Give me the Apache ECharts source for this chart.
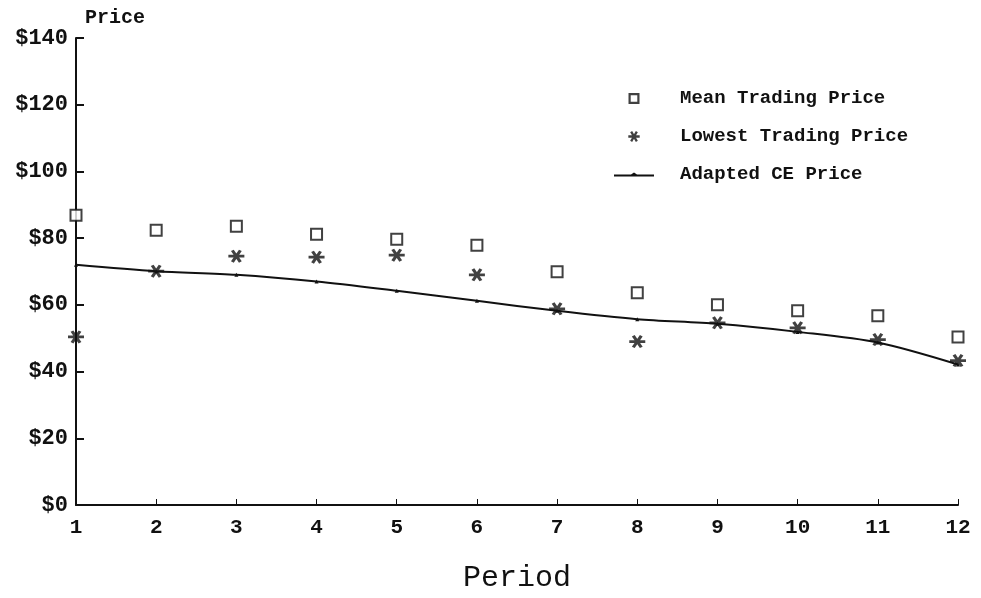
<!DOCTYPE html>
<html>
<head>
<meta charset="utf-8">
<title>Price by Period</title>
<script src="https://cdn.jsdelivr.net/npm/echarts@6/dist/echarts.min.js"></script>
<style>
  html, body { margin: 0; padding: 0; background: #ffffff; }
  #chart { width: 981px; height: 598px; }
</style>
</head>
<body>
<div id="chart"></div>
<script>
  // periods 1..12
  const periods = [1, 2, 3, 4, 5, 6, 7, 8, 9, 10, 11, 12];
  const meanPrice = [86.9, 82.4, 83.6, 81.2, 79.7, 77.9, 69.9, 63.6, 60.0, 58.2, 56.7, 50.4];
  const lowestPrice = [50.4, 70.1, 74.6, 74.3, 74.9, 69.0, 58.8, 49.0, 54.6, 53.1, 49.6, 43.3];
  const cePrice = [72.0, 70.1, 69.0, 67.0, 64.2, 61.2, 58.2, 55.7, 54.3, 51.9, 48.7, 42.1];
  const yTicks = [0, 20, 40, 60, 80, 100, 120, 140];

  // asterisk made of three bars (filled path)
  const starPath = 'path://M-10,-2L10,-2L10,2L-10,2Z' +
    'M6.73,7.66L3.27,9.66L-6.73,-7.66L-3.27,-9.66Z' +
    'M-3.27,9.66L-6.73,7.66L3.27,-9.66L6.73,-7.66Z';
  // legend icons
  const squareIcon = 'path://M0,0L10,0L10,10L0,10ZM2,2L2,8L8,8L8,2Z';
  const lineIcon = 'path://M0,9L17,9L20,7L23,9L40,9L40,11L0,11Z';

  const pair = (arr) => periods.map((p, i) => [p, arr[i]]);

  const chart = echarts.init(document.getElementById('chart'));
  const option = {
    backgroundColor: '#ffffff',
    animation: false,
    grid: { left: 76, right: 23, top: 38, bottom: 91, containLabel: false },
    legend: {
      orient: 'vertical',
      left: 609,
      top: 84,
      itemWidth: 40,
      itemHeight: 11,
      itemGap: 19,
      textStyle: {
        fontFamily: 'Liberation Mono',
        fontWeight: 'bold',
        fontSize: 19,
        color: '#111',
        padding: [0, 0, 0, 21]
      },
      data: [
        { name: 'Mean Trading Price', icon: squareIcon, itemStyle: { borderWidth: 0 } },
        { name: 'Lowest Trading Price', icon: starPath },
        { name: 'Adapted CE Price', icon: lineIcon }
      ]
    },
    xAxis: {
      type: 'value',
      min: 1,
      max: 12,
      interval: 1,
      name: 'Period',
      nameLocation: 'middle',
      nameGap: 58,
      nameTextStyle: { fontFamily: 'Liberation Mono', fontSize: 30, color: '#111' },
      axisLine: { lineStyle: { color: '#111', width: 2 } },
      axisTick: { inside: true, length: 6, lineStyle: { color: '#111', width: 1 } },
      axisLabel: {
        margin: 12,
        fontFamily: 'Liberation Mono',
        fontWeight: 'bold',
        fontSize: 21,
        color: '#111',
        formatter: (v) => String(v)
      },
      splitLine: { show: false }
    },
    yAxis: {
      type: 'value',
      min: yTicks[0],
      max: yTicks[yTicks.length - 1],
      interval: 20,
      name: 'Price',
      nameLocation: 'end',
      nameGap: 10,
      nameTextStyle: {
        fontFamily: 'Liberation Mono',
        fontWeight: 'bold',
        fontSize: 20,
        color: '#111',
        align: 'left',
        padding: [0, 0, 0, 9]
      },
      axisLine: { show: true, lineStyle: { color: '#111', width: 2 } },
      axisTick: { show: true, inside: true, length: 8, lineStyle: { color: '#111', width: 2 } },
      axisLabel: {
        margin: 8,
        fontFamily: 'Liberation Mono',
        fontWeight: 'bold',
        fontSize: 22,
        color: '#111',
        formatter: (v) => '$' + v
      },
      splitLine: { show: false }
    },
    series: [
      {
        name: 'Mean Trading Price',
        type: 'scatter',
        symbol: 'emptyRect',
        symbolSize: 11,
        itemStyle: { color: '#111', borderColor: '#111', borderWidth: 2 },
        data: pair(meanPrice),
        z: 3
      },
      {
        name: 'Lowest Trading Price',
        type: 'scatter',
        symbol: starPath,
        symbolSize: [16, 13],
        itemStyle: { color: '#111' },
        data: pair(lowestPrice),
        z: 4
      },
      {
        name: 'Adapted CE Price',
        type: 'line',
        smooth: 0.3,
        symbol: 'triangle',
        symbolSize: 4,
        showSymbol: true,
        itemStyle: { color: '#111' },
        lineStyle: { color: '#111', width: 2 },
        data: pair(cePrice),
        z: 2
      }
    ]
  };
  chart.setOption(option);
</script>
</body>
</html>
